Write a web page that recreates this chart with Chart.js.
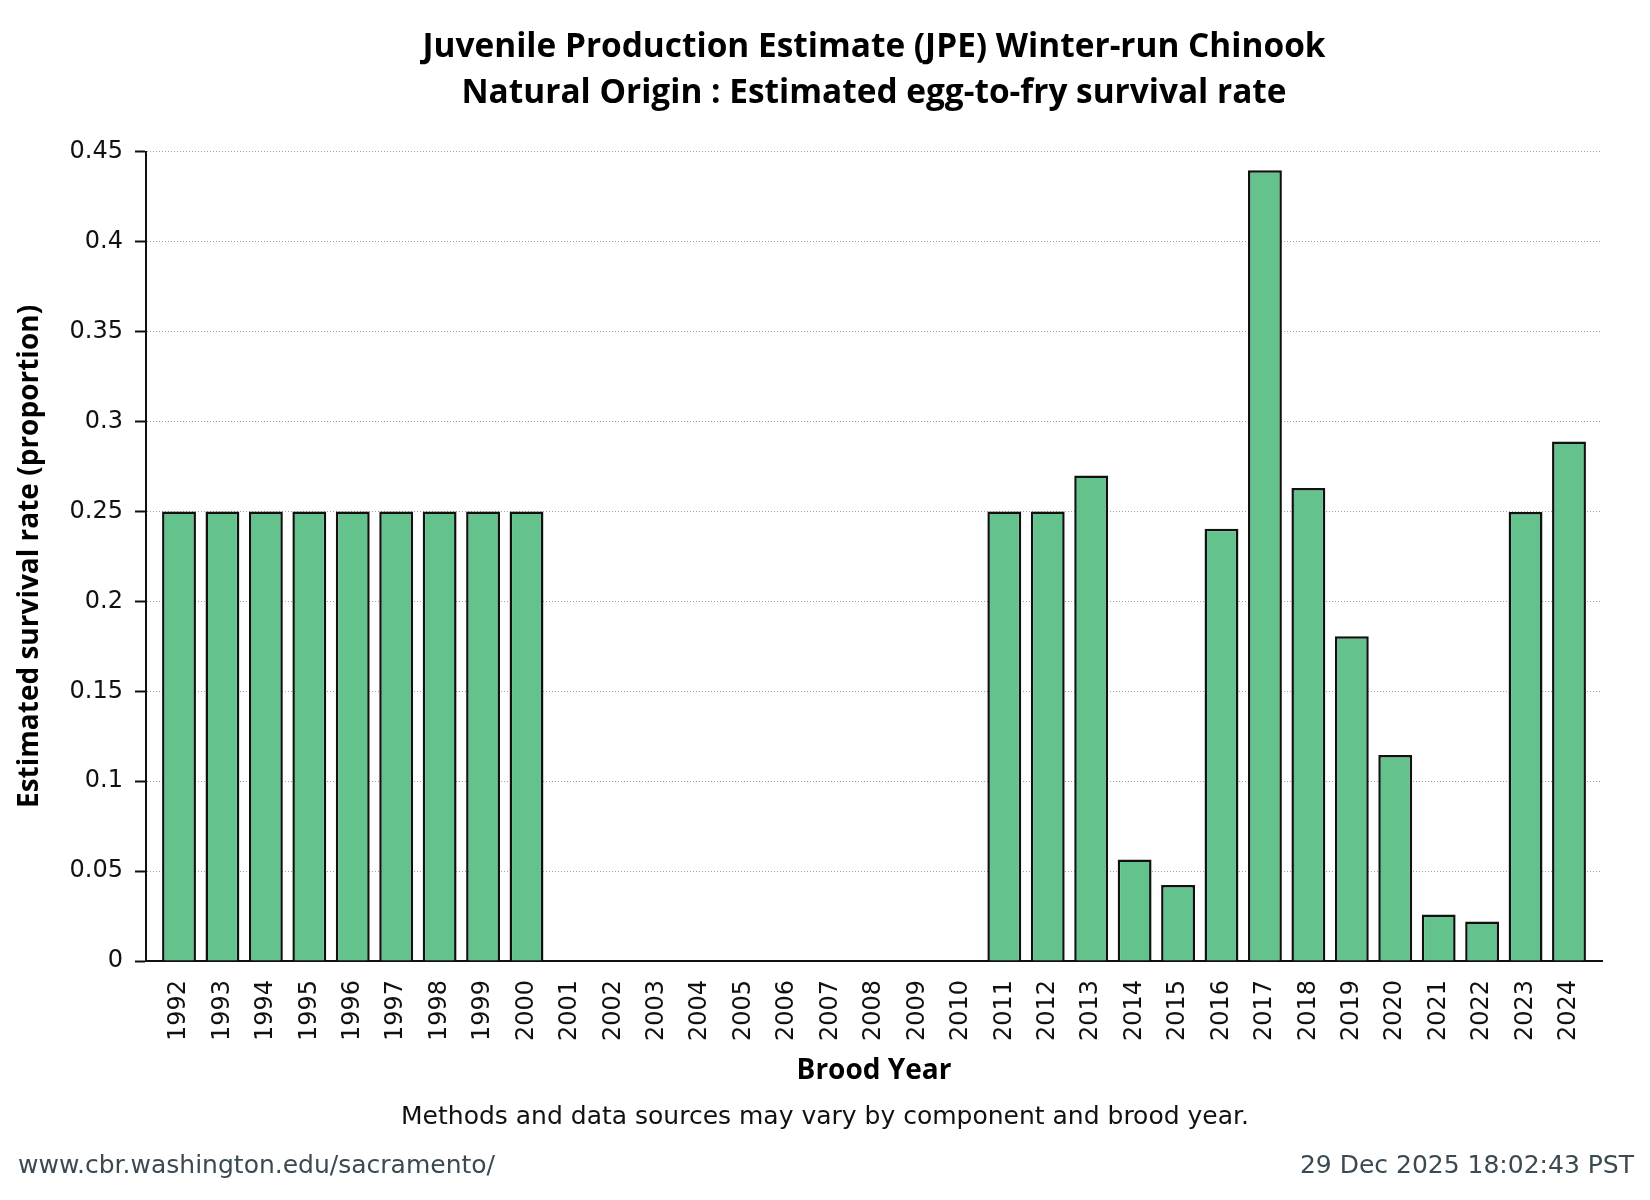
<!DOCTYPE html>
<html>
<head>
<meta charset="utf-8">
<title>JPE Winter-run Chinook - egg-to-fry survival</title>
<script src="https://cdn.jsdelivr.net/npm/chart.js@4.4.1/dist/chart.umd.min.js"></script>
<style>
  html, body { margin: 0; padding: 0; background: #fff; }
  canvas { display: block; }
</style>
</head>
<body>
<canvas id="survivalChart" width="1650" height="1200"></canvas>
<script>
// Brood years shown on the x axis
const broodYears = [
  1992, 1993, 1994, 1995, 1996, 1997, 1998, 1999, 2000, 2001, 2002,
  2003, 2004, 2005, 2006, 2007, 2008, 2009, 2010, 2011, 2012, 2013,
  2014, 2015, 2016, 2017, 2018, 2019, 2020, 2021, 2022, 2023, 2024
];

// Estimated egg-to-fry survival (proportion), no estimate for 2001-2010
const survivalRate = [
  0.25, 0.25, 0.25, 0.25, 0.25, 0.25, 0.25, 0.25, 0.25, null, null,
  null, null, null, null, null, null, null, null, 0.25, 0.25, 0.27,
  0.0565, 0.0423, 0.2404, 0.4398, 0.2631, 0.1806, 0.1145, 0.0259, 0.0219, 0.2497, 0.2889
];

const yTickValues = [0, 0.05, 0.1, 0.15, 0.2, 0.25, 0.3, 0.35, 0.4, 0.45];

const titleLines = [
  'Juvenile Production Estimate (JPE) Winter-run Chinook',
  'Natural Origin : Estimated egg-to-fry survival rate'
];
const yAxisTitle = 'Estimated survival rate (proportion)';
const xAxisTitle = 'Brood Year';
const footnote = 'Methods and data sources may vary by component and brood year.';
const sourceUrl = 'www.cbr.washington.edu/sacramento/';
const stampText = '29 Dec 2025 18:02:43 PST';

// footnote + source line under the chart
const footerNotes = {
  id: 'footerNotes',
  afterDraw(chart) {
    const ctx = chart.ctx;
    ctx.save();
    ctx.font = '25px "DejaVu Sans"';
    ctx.textBaseline = 'middle';
    ctx.fillStyle = '#111';
    ctx.textAlign = 'center';
    ctx.fillText(footnote, chart.width / 2, 1117);
    ctx.fillStyle = '#3b4a52';
    ctx.textAlign = 'left';
    ctx.fillText(sourceUrl, 18, 1166);
    ctx.textAlign = 'right';
    ctx.fillText(stampText, chart.width - 16, 1166);
    ctx.restore();
  }
};

const tickFont = { family: '"DejaVu Sans"', size: 24 };
const boldFont = { family: '"Open Sans"', size: 28, weight: 'bold' };

new Chart(document.getElementById('survivalChart'), {
  type: 'bar',
  data: {
    datasets: [{
      label: 'Egg-to-fry survival',
      data: broodYears.map((yr, i) => ({ x: yr, y: survivalRate[i] })),
      backgroundColor: 'rgb(100, 194, 141)',
      borderColor: '#111',
      borderWidth: 2.5,
      categoryPercentage: 1,
      barPercentage: 0.78
    }]
  },
  options: {
    responsive: false,
    devicePixelRatio: 1,
    animation: false,
    layout: { padding: { left: 0, right: 48, top: 0, bottom: 0 } },
    plugins: {
      legend: { display: false },
      tooltip: { enabled: false },
      title: {
        display: true,
        text: titleLines,
        fullSize: false,
        color: '#000',
        font: { family: '"Open Sans"', size: 33.4, weight: 'bold', lineHeight: 1.36 },
        padding: { top: 25, bottom: 36 }
      }
    },
    scales: {
      x: {
        type: 'linear',
        offset: false,
        min: 1991.24,
        max: 2024.76,
        bounds: 'data',
        afterBuildTicks: s => { s.ticks = broodYears.map(v => ({ value: v })); },
        afterFit: s => { s.height = 239; },
        grid: { display: false, drawTicks: false, offset: false },
        border: { display: true, color: '#111', width: 2 },
        ticks: {
          autoSkip: false,
          minRotation: 90,
          maxRotation: 90,
          padding: 19,
          color: '#111',
          font: tickFont,
          callback: v => String(v)
        },
        title: {
          display: true,
          text: xAxisTitle,
          color: '#000',
          font: boldFont,
          padding: { top: 0, bottom: 112 }
        }
      },
      y: {
        min: 0,
        max: 0.45,
        afterBuildTicks: s => { s.ticks = yTickValues.map(v => ({ value: v })); },
        afterFit: s => { s.width = 146; },
        grid: { color: '#a0a0a0', lineWidth: 1, tickColor: '#111', tickWidth: 2, tickLength: 11 },
        border: { display: true, color: '#111', width: 2, dash: [1, 2] },
        ticks: {
          padding: 12,
          color: '#111',
          font: tickFont,
          callback: v => String(Math.round(v * 100) / 100)
        },
        title: {
          display: true,
          text: yAxisTitle,
          color: '#000',
          font: boldFont,
          padding: { top: 13, bottom: 0 }
        }
      }
    }
  },
  plugins: [footerNotes]
});
</script>
</body>
</html>
